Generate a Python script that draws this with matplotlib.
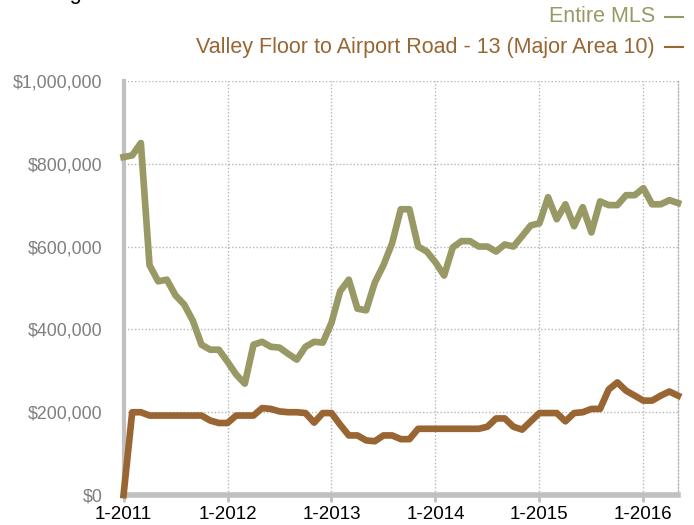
import matplotlib
matplotlib.use("Agg")
import matplotlib.pyplot as plt
from matplotlib.lines import Line2D

plt.rcParams['font.family'] = ['Liberation Sans', 'DejaVu Sans']

title = "Rolling 12-Month Calculation"
series_names = ["Entire MLS", "Valley Floor to Airport Road - 13 (Major Area 10)"]
tick_labels = ["1-2011", "1-2012", "1-2013", "1-2014", "1-2015", "1-2016"]
y_ticks = [0, 200000, 400000, 600000, 800000, 1000000]
y_tick_labels = ["$0", "$200,000", "$400,000", "$600,000", "$800,000", "$1,000,000"]

# Monthly values Jan 2011 .. May 2016
entire_mls = [816000, 820000, 850000, 555000, 516000, 520000, 482000, 460000, 421000, 363000,
              351000, 351000, 322000, 291000, 269000, 363000, 370000, 358000, 356000, 341000,
              327000, 358000, 370000, 368000, 416000, 492000, 520000, 450000, 446000, 513000,
              555000, 608000, 690000, 690000, 600000, 588000, 562000, 530000, 598000, 613000,
              613000, 600000, 600000, 588000, 605000, 600000, 625000, 651000, 656000, 719000,
              666000, 702000, 649000, 695000, 634000, 709000, 700000, 700000, 724000, 724000,
              741000, 702000, 702000, 712000, 705000]
valley_floor = [0, 200000, 200000, 192000, 192000, 192000, 192000, 192000, 192000, 192000,
                180000, 174000, 174000, 192000, 192000, 192000, 210000, 208000, 202000, 200000,
                200000, 198000, 175000, 198000, 198000, 170000, 144000, 144000, 132000, 130000,
                144000, 144000, 135000, 135000, 160000, 160000, 160000, 160000, 160000, 160000,
                160000, 160000, 165000, 185000, 185000, 165000, 158000, 178000, 198000, 198000,
                198000, 178000, 198000, 200000, 208000, 208000, 255000, 272000, 252000, 240000,
                228000, 228000, 240000, 250000, 240000]

colors = ["#999966", "#996633"]

fig = plt.figure(figsize=(6.94, 5.25), dpi=100)
ax = fig.add_axes([0.178, 0.057, 0.799, 0.789])

x = list(range(len(entire_mls)))
ax.plot(x, entire_mls, color=colors[0], lw=4.8, solid_joinstyle='round', zorder=3, clip_on=False)
ax.plot(x, valley_floor, color=colors[1], lw=4.8, solid_joinstyle='round', zorder=3, clip_on=False)

ax.set_xlim(0, len(x) - 1)
ax.set_ylim(0, 1000000)
ax.set_yticks(y_ticks)
ax.set_yticklabels(y_tick_labels, color="#7f7f7f", fontsize=12.8)
ax.set_xticks([12 * i for i in range(len(tick_labels))])
ax.set_xticklabels(tick_labels, color="black", fontsize=13.5)
ax.tick_params(axis='y', length=0, pad=15)
ax.tick_params(axis='x', length=5, width=2, color="#c0c0c0", pad=3)

ax.grid(True, color="#b5b5b5", linestyle=(0, (1, 1.5)), linewidth=1)
ax.set_axisbelow(True)
ax.spines['top'].set_visible(False)
ax.spines['right'].set_color("#b5b5b5")
ax.spines['right'].set_linestyle((0, (1, 1.5)))
ax.spines['right'].set_linewidth(1)
ax.spines['left'].set_color("#c0c0c0")
ax.spines['left'].set_linewidth(3)
ax.spines['bottom'].set_color("#c0c0c0")
ax.spines['bottom'].set_linewidth(4)

# legend on top right
leg_y = [1 - 17 / 525, 1 - 47 / 525]
for name, c, yy in zip(series_names, colors, leg_y):
    fig.text(655 / 694, yy, name, color=c, fontsize=15.5, ha='right', va='center')
    fig.add_artist(Line2D([665 / 694, 683 / 694], [yy, yy], color=c, lw=1.5,
                          transform=fig.transFigure))

# title cut off at the top edge, as in the reference
fig.text(16 / 694, 1 + 1 / 525, title, color="black", fontsize=15.5, ha='left', va='baseline')

fig.savefig("out.png", dpi=100)
